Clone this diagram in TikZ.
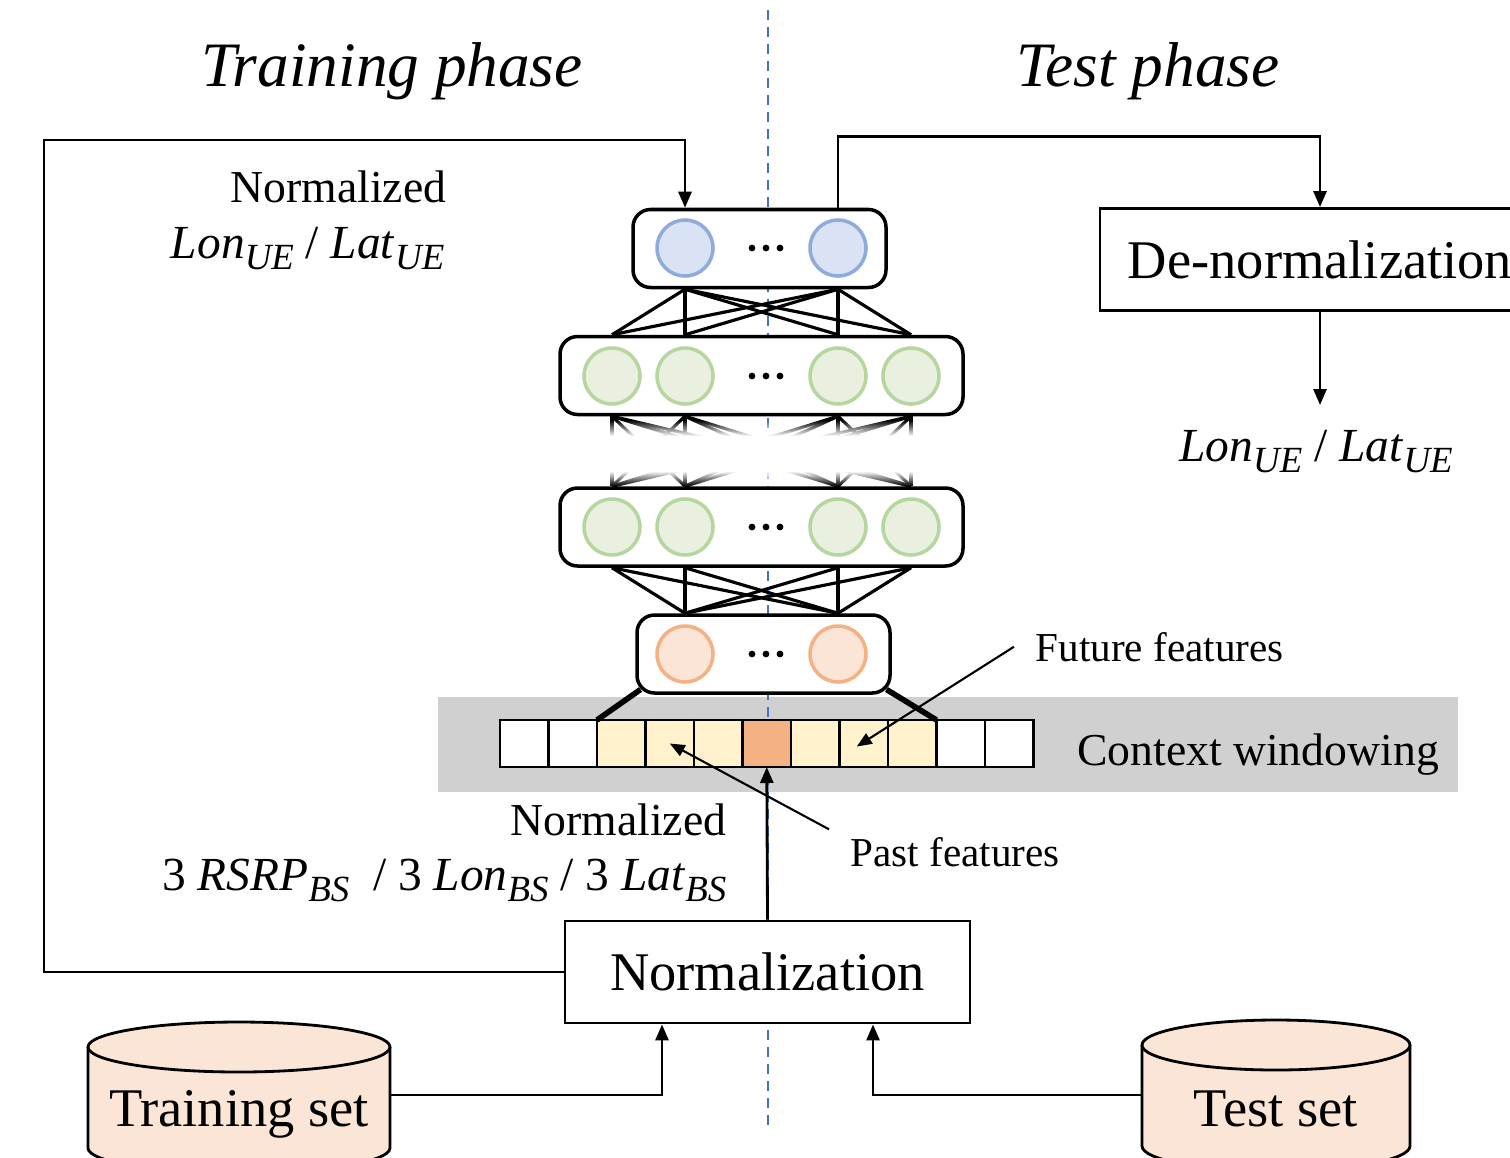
\documentclass[tikz,border=0pt]{standalone}
\usepackage{fontspec}
\setmainfont{Liberation Serif}
\usetikzlibrary{arrows.meta, positioning, fadings}

\definecolor{nblue}{HTML}{DAE3F3}
\definecolor{nbluedraw}{HTML}{8FAADC}
\definecolor{ngreen}{HTML}{E9F0E0}
\definecolor{ngreendraw}{HTML}{B7D59E}
\definecolor{norange}{HTML}{FBE5D6}
\definecolor{norangedraw}{HTML}{F4B183}
\definecolor{winyel}{HTML}{FFF2CC}
\definecolor{winorg}{HTML}{F4B183}
\definecolor{bandgray}{HTML}{D0D0D0}
\definecolor{divblue}{HTML}{4472C4}

% italic variable with a larger, lowered italic subscript
\newcommand{\varsub}[2]{\textit{#1}\raisebox{-0.55ex}{\fontsize{10.5}{12}\selectfont\textit{#2}}}

\begin{document}
\begin{tikzpicture}[
        % layers of the network
        layerbox/.style={
                rectangle,
                rounded corners=5pt,
                draw,
                line width=1pt,
                fill=white,
                minimum height=0.78cm
            },
        neuron/.style={
                circle,
                line width=1pt,
                minimum size=0.56cm,
                inner sep=0pt
            },
        link/.style={line width=0.9pt},
        feed/.style={line width=1.6pt},
        % context window cells
        cell/.style={
                rectangle,
                draw,
                line width=0.8pt,
                minimum width=0.485cm,
                minimum height=0.47cm,
                inner sep=0pt,
                outer sep=0pt
            },
        ctxband/.style={
                rectangle,
                fill=bandgray,
                minimum width=10.2cm,
                minimum height=0.95cm,
                inner sep=0pt
            },
        % processing boxes
        procbox/.style={
                rectangle,
                draw,
                fill=white,
                line width=0.8pt,
                minimum height=1.02cm,
                font=\fontsize{15.5}{18}\selectfont
            },
        db/.style={fill=norange, draw, line width=0.8pt},
        big/.style={font=\fontsize{15.5}{18}\selectfont, inner sep=0pt},
        title/.style={font=\fontsize{18}{22}\selectfont\itshape, inner sep=0pt},
        lbl/.style={font=\fontsize{13}{16}\selectfont, inner sep=0pt},
        varlbl/.style={font=\fontsize{13.5}{16}\selectfont, inner sep=0pt},
        note/.style={font=\fontsize{11.7}{14}\selectfont, inner sep=2pt},
        % connectors
        flow/.style={
                -{Triangle[length=1.6mm, width=1.3mm]},
                line width=0.8pt
            },
        pointer/.style={
                -{Triangle[length=1.5mm, width=1.2mm]},
                line width=0.6pt
            },
        divider/.style={
                draw=divblue,
                line width=0.7pt,
                dash pattern=on 0.1cm off 0.07cm
            }
    ]

    \useasboundingbox (0,0) rectangle (15.1,-11.57);

    % Context windowing band
    \node[ctxband] (ctx) at (9.48,-7.445) {};
    \node[font=\fontsize{13}{16}\selectfont, inner sep=0pt, anchor=base] (ctxlbl) at (12.58,-7.65) {Context windowing};

    % phase divider
    \draw[divider] (7.68,-0.10) -- (7.68,-11.32);

    % titles
    \node[title, anchor=base] (trainttl) at (3.92,-0.86) {Training phase};
    \node[title, anchor=base] (testttl) at (11.48,-0.86) {Test phase};

    % network layers
    \node[layerbox, minimum width=2.53cm] (outl) at (7.595,-2.485) {};
    \node[layerbox, minimum width=4.03cm] (hid1) at (7.615,-3.755) {};
    \node[layerbox, minimum width=4.03cm] (hid2) at (7.615,-5.27) {};
    \node[layerbox, minimum width=2.53cm] (inl) at (7.635,-6.54) {};

    \foreach \n/\x in {1/6.85, 2/8.38}
        \node[neuron, draw=nbluedraw, fill=nblue] (o\n) at (\x,-2.48) {};
    \foreach \n/\x in {1/6.12, 2/6.85, 3/8.38, 4/9.11} {
        \node[neuron, draw=ngreendraw, fill=ngreen] (ha\n) at (\x,-3.76) {};
        \node[neuron, draw=ngreendraw, fill=ngreen] (hb\n) at (\x,-5.27) {};
    }
    \foreach \n/\x in {1/6.85, 2/8.38}
        \node[neuron, draw=norangedraw, fill=norange] (i\n) at (\x,-6.54) {};

    \foreach \y in {-2.48,-3.76,-5.27,-6.54}
        \foreach \dx in {-0.14,0,0.14}
            \fill ({7.66+\dx},\y) circle (0.034);

    % fully connected links
    \foreach \a in {1,2}
        \foreach \b in {1,...,4}
            \draw[link] (o\a |- outl.south) -- (ha\b |- hid1.north);
    \foreach \a in {1,...,4}
        \foreach \b in {1,...,4}
            \draw[link] (ha\a |- hid1.south) -- (hb\b |- hid2.north);
    \foreach \a in {1,...,4}
        \foreach \b in {1,2}
            \draw[link] (hb\a |- hid2.south) -- (i\b |- inl.north);

    % cut between the hidden layers
    \fill[white, path fading=north] (5.55,-4.20) rectangle (9.85,-4.36);
    \fill[white] (5.55,-4.36) rectangle (9.85,-4.71);
    \fill[white, path fading=south] (5.55,-4.71) rectangle (9.85,-4.86);

    % window cells
    \foreach \c [count=\i] in {white,white,winyel,winyel,winyel,winorg,winyel,winyel,winyel,white,white}
        \node[cell, fill=\c] (c\i) at ({5.0+0.485*(\i-0.5)},-7.435) {};

    \draw[feed] ([xshift=1.5pt,yshift=1.5pt]inl.south west) -- (c3.north west);
    \draw[feed] ([xshift=-1.5pt,yshift=1.5pt]inl.south east) -- (c9.north east);

    % processing boxes
    \node[procbox, minimum width=4.05cm] (norm) at (7.675,-9.72) {Normalization};
    \node[procbox, minimum width=4.4cm] (denorm) at (13.2,-2.595) {De-normalization};

    % data sets
    \draw[db] (0.88,-10.47) -- (0.88,-11.48) arc[start angle=180, end angle=360, x radius=1.51cm, y radius=0.25cm] -- (3.90,-10.47);
    \draw[db] (2.39,-10.47) ellipse [x radius=1.51cm, y radius=0.25cm];
    \node[big, anchor=base] (trainset) at (2.39,-11.26) {Training set};

    \draw[db] (11.42,-10.45) -- (11.42,-11.46) arc[start angle=180, end angle=360, x radius=1.34cm, y radius=0.25cm] -- (14.10,-10.45);
    \draw[db] (12.76,-10.45) ellipse [x radius=1.34cm, y radius=0.25cm];
    \node[big, anchor=base] (testset) at (12.76,-11.26) {Test set};

    \coordinate (trainport) at (3.90,-10.95);
    \coordinate (testport) at (11.42,-10.95);
    \coordinate (est) at (13.2,-4.05);

    % labels
    \node[lbl, anchor=base east] (trnorm) at (4.47,-2.02) {Normalized};
    \node[varlbl, anchor=base east] (trvars) at (4.45,-2.58) {\varsub{Lon}{UE} / \varsub{Lat}{UE}};
    \node[varlbl, anchor=base] (estlbl) at (13.16,-4.61) {\varsub{Lon}{UE} / \varsub{Lat}{UE}};
    \node[lbl, anchor=base east] (innorm) at (7.27,-8.35) {Normalized};
    \node[varlbl, anchor=base east] (invars) at (7.27,-8.90) {3 \varsub{RSRP}{BS}\ \ / 3 \varsub{Lon}{BS} / 3 \varsub{Lat}{BS}};
    \node[note, anchor=base west] (fut) at (10.28,-6.61) {Future features};
    \node[note, anchor=base west] (past) at (8.43,-8.66) {Past features};

    % arrows
    \draw[flow] (norm.north) -- (c6.south);
    \draw[flow] (norm.west) -| (0.44,-1.40) -| (o1 |- outl.north);
    \draw[flow] (o2 |- outl.north) -- ++(0,0.71) -| (denorm.north);
    \draw[flow] (denorm.south) -- (est);
    \draw[flow] (trainport) -| ([xshift=-1.055cm]norm.south);
    \draw[flow] (testport) -| ([xshift=1.055cm]norm.south);
    \draw[pointer] ([xshift=-0.14cm]fut.west) -- ([xshift=-0.07cm,yshift=-0.03cm]c8.center);
    \draw[pointer] ([xshift=-0.14cm]past.north west) -- (c4.center);

\end{tikzpicture}
\end{document}
